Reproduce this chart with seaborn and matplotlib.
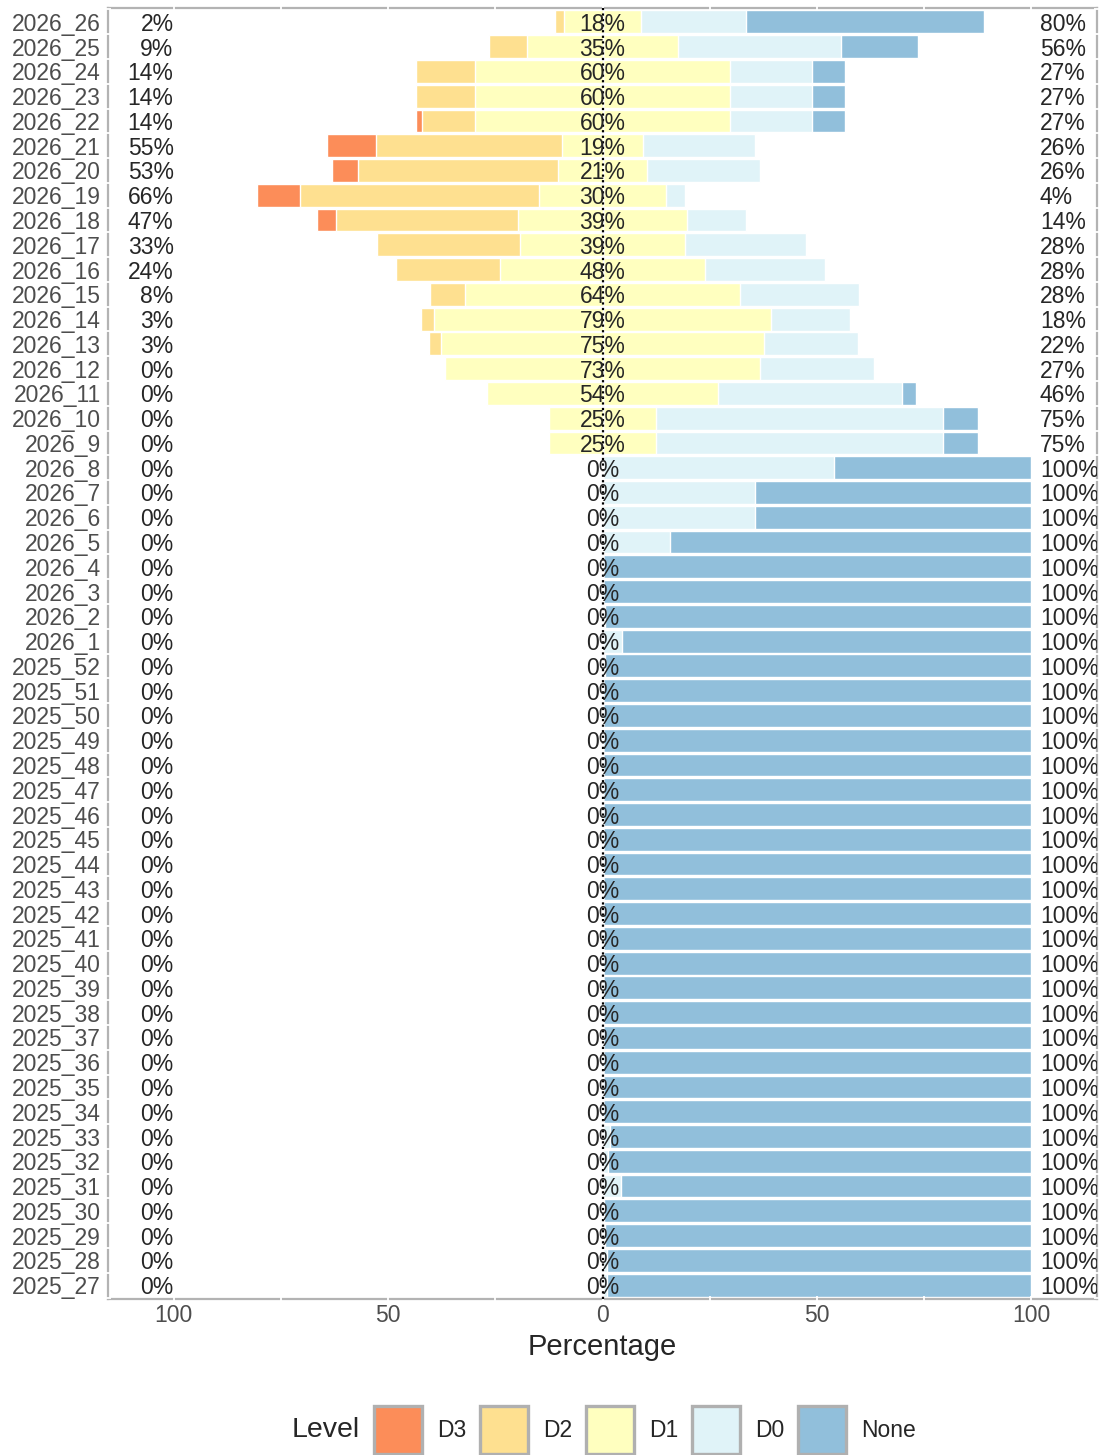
import numpy as np
import pandas as pd
import matplotlib
matplotlib.use("Agg")
import matplotlib.pyplot as plt
from matplotlib.patches import Patch
import seaborn as sns

# --- data (top row first) ---
weeks = [f"2026_{i}" for i in range(26, 0, -1)] + [f"2025_{i}" for i in range(52, 26, -1)]

d3 = [0, 0, 0, 0, 1.3, 11.6, 6.0, 10.1, 4.4, 0, 0, 0, 0, 0, 0, 0, 0, 0,
      0, 0, 0, 0, 0, 0, 0, 0, 0, 0, 0, 0, 0, 0, 0, 0, 0, 0, 0, 0, 0, 0, 0, 0, 0, 0,
      0, 0, 0, 0, 0, 0, 0, 0]
d2 = [2, 9, 13.6, 13.6, 12.3, 43.2, 46.7, 55.6, 42.6, 33.2, 24.2, 8.2, 3.0, 2.8, 0, 0, 0, 0,
      0, 0, 0, 0, 0, 0, 0, 0, 0, 0, 0, 0, 0, 0, 0, 0, 0, 0, 0, 0, 0, 0, 0, 0, 0, 0,
      0, 0, 0, 0, 0, 0, 0, 0]
d1 = [18, 35, 59.6, 59.6, 59.6, 19.1, 20.8, 29.8, 39.3, 38.6, 47.8, 64.0, 78.8, 75.2, 73.3, 54.0, 25.0, 25.0,
      0, 0, 0, 0, 0, 0, 0, 0, 0, 0, 0, 0, 0, 0, 0, 0, 0, 0, 0, 0, 0, 0, 0, 0, 0, 0,
      0, 0, 0, 0, 0, 0, 0, 0]
d0 = [24.5, 38, 19, 19, 19, 26.1, 26.4, 4.4, 13.7, 28.2, 28.0, 27.8, 18.2, 22.0, 26.7, 42.8, 67, 67,
      54, 35.5, 35.5, 15.8, 0, 0, 0.5, 4.5, 0.5, 0, 0, 0, 0, 0, 0, 0, 0, 0, 0, 0, 0, 0, 0, 0, 0, 0,
      0, 1.7, 1.3, 4.3, 0.3, 0.5, 1.0, 1.0]
none = [55.5, 18, 7.8, 7.8, 7.8, 0, 0, 0, 0, 0, 0, 0, 0, 0, 0, 3.2, 8, 8,
        46, 64.5, 64.5, 84.2, 100, 100, 99.5, 95.5, 99.5, 100, 100, 100, 100, 100, 100, 100, 100, 100,
        100, 100, 100, 100, 100, 100, 100, 100,
        100, 98.3, 98.7, 95.7, 99.7, 99.5, 99, 99]

levels = ["D3", "D2", "D1", "D0", "None"]
colors = ["#FC8D59", "#FEE090", "#FFFFBF", "#E0F3F8", "#91BFDB"]

# --- layout ---
sns.set_style("white")
plt.rcParams["font.family"] = ["Liberation Sans", "DejaVu Sans"]

fig = plt.figure(figsize=(11.05, 14.55), dpi=100)
W, H = 1105, 1455
ax = fig.add_axes([108 / W, 1 - 1299 / H, (1097 - 108) / W, (1299 - 8) / H])

a3, a2, a1, a0, an = (np.array(v, dtype=float) for v in (d3, d2, d1, d0, none))
half = a1 / 2

# draw cumulative bars, widest first, so the segments stack
segments = [
    (half + a0 + an, colors[4]),
    (half + a0, colors[3]),
    (half, colors[2]),
    (-(half + a2 + a3), colors[0]),
    (-(half + a2), colors[1]),
    (-half, colors[2]),
]
for vals, col in segments:
    df = pd.DataFrame({"week": weeks, "value": vals})
    sns.barplot(data=df, x="value", y="week", order=weeks, orient="h",
                color=col, saturation=1, width=0.92, errorbar=None,
                edgecolor="white", linewidth=1, ax=ax)

ax.axvline(0, color="black", linestyle=(0, (1, 1.5)), linewidth=1.6, zorder=5)

# percentage labels
left_tot = a3 + a2
right_tot = a0 + an
for i in range(len(weeks)):
    ax.text(-100, i, f"{left_tot[i]:.0f}%", ha="right", va="center_baseline", fontsize=16.5, clip_on=True, zorder=6)
    ax.text(0, i, f"{a1[i]:.0f}%", ha="center", va="center_baseline", fontsize=16.5, clip_on=True, zorder=6)
    ax.text(102, i, f"{right_tot[i]:.0f}%", ha="left", va="center_baseline", fontsize=16.5, clip_on=True, zorder=6)

ax.set_xlim(-115.3, 115.3)
ax.set_ylim(len(weeks) - 0.44, -0.56)
ax.set_xticks([-100, -50, 0, 50, 100])
ax.set_xticklabels(["100", "50", "0", "50", "100"])
ax.set_xticks([-75, -25, 25, 75], minor=True)
ax.set_yticks(np.arange(-0.5, len(weeks)), minor=True)
ax.set_xlabel("")
ax.set_ylabel("")

for s in ax.spines.values():
    s.set_visible(True)
    s.set_color("#b3b3b3")
    s.set_linewidth(1.6)
    s.set_zorder(2)

# white tick marks cut small gaps into the grey frame
ax.set_axisbelow(False)
ax.xaxis.set_zorder(3)
ax.yaxis.set_zorder(3)
ax.tick_params(axis="x", which="both", direction="inout", length=5, width=1.3,
               color="white", top=True, bottom=True, labelsize=16.5, labelcolor="#4d4d4d", pad=1)
ax.tick_params(axis="y", which="major", length=0, labelsize=16.5, labelcolor="#4d4d4d", pad=5)
ax.tick_params(axis="y", which="minor", direction="inout", length=5, width=1.3,
               color="white", left=True, right=True)

fig.text(602.5 / W, 1 - 1347 / H, "Percentage", ha="center", va="center", fontsize=21)

# legend
fig.text(292 / W, 1 - 1430 / H, "Level", ha="left", va="center", fontsize=20.5)
handles = [Patch(facecolor=c, edgecolor="#b0b0b0", linewidth=2.4, label=l) for l, c in zip(levels, colors)]
fig.legend(handles=handles, loc="center left", bbox_to_anchor=(374 / W, 1 - 1430 / H),
           ncol=5, frameon=False, fontsize=16.5, handlelength=2.1, handleheight=2.8,
           handletextpad=0.65, columnspacing=0.6, borderpad=0, borderaxespad=0)

plt.savefig("out.png", dpi=100)
